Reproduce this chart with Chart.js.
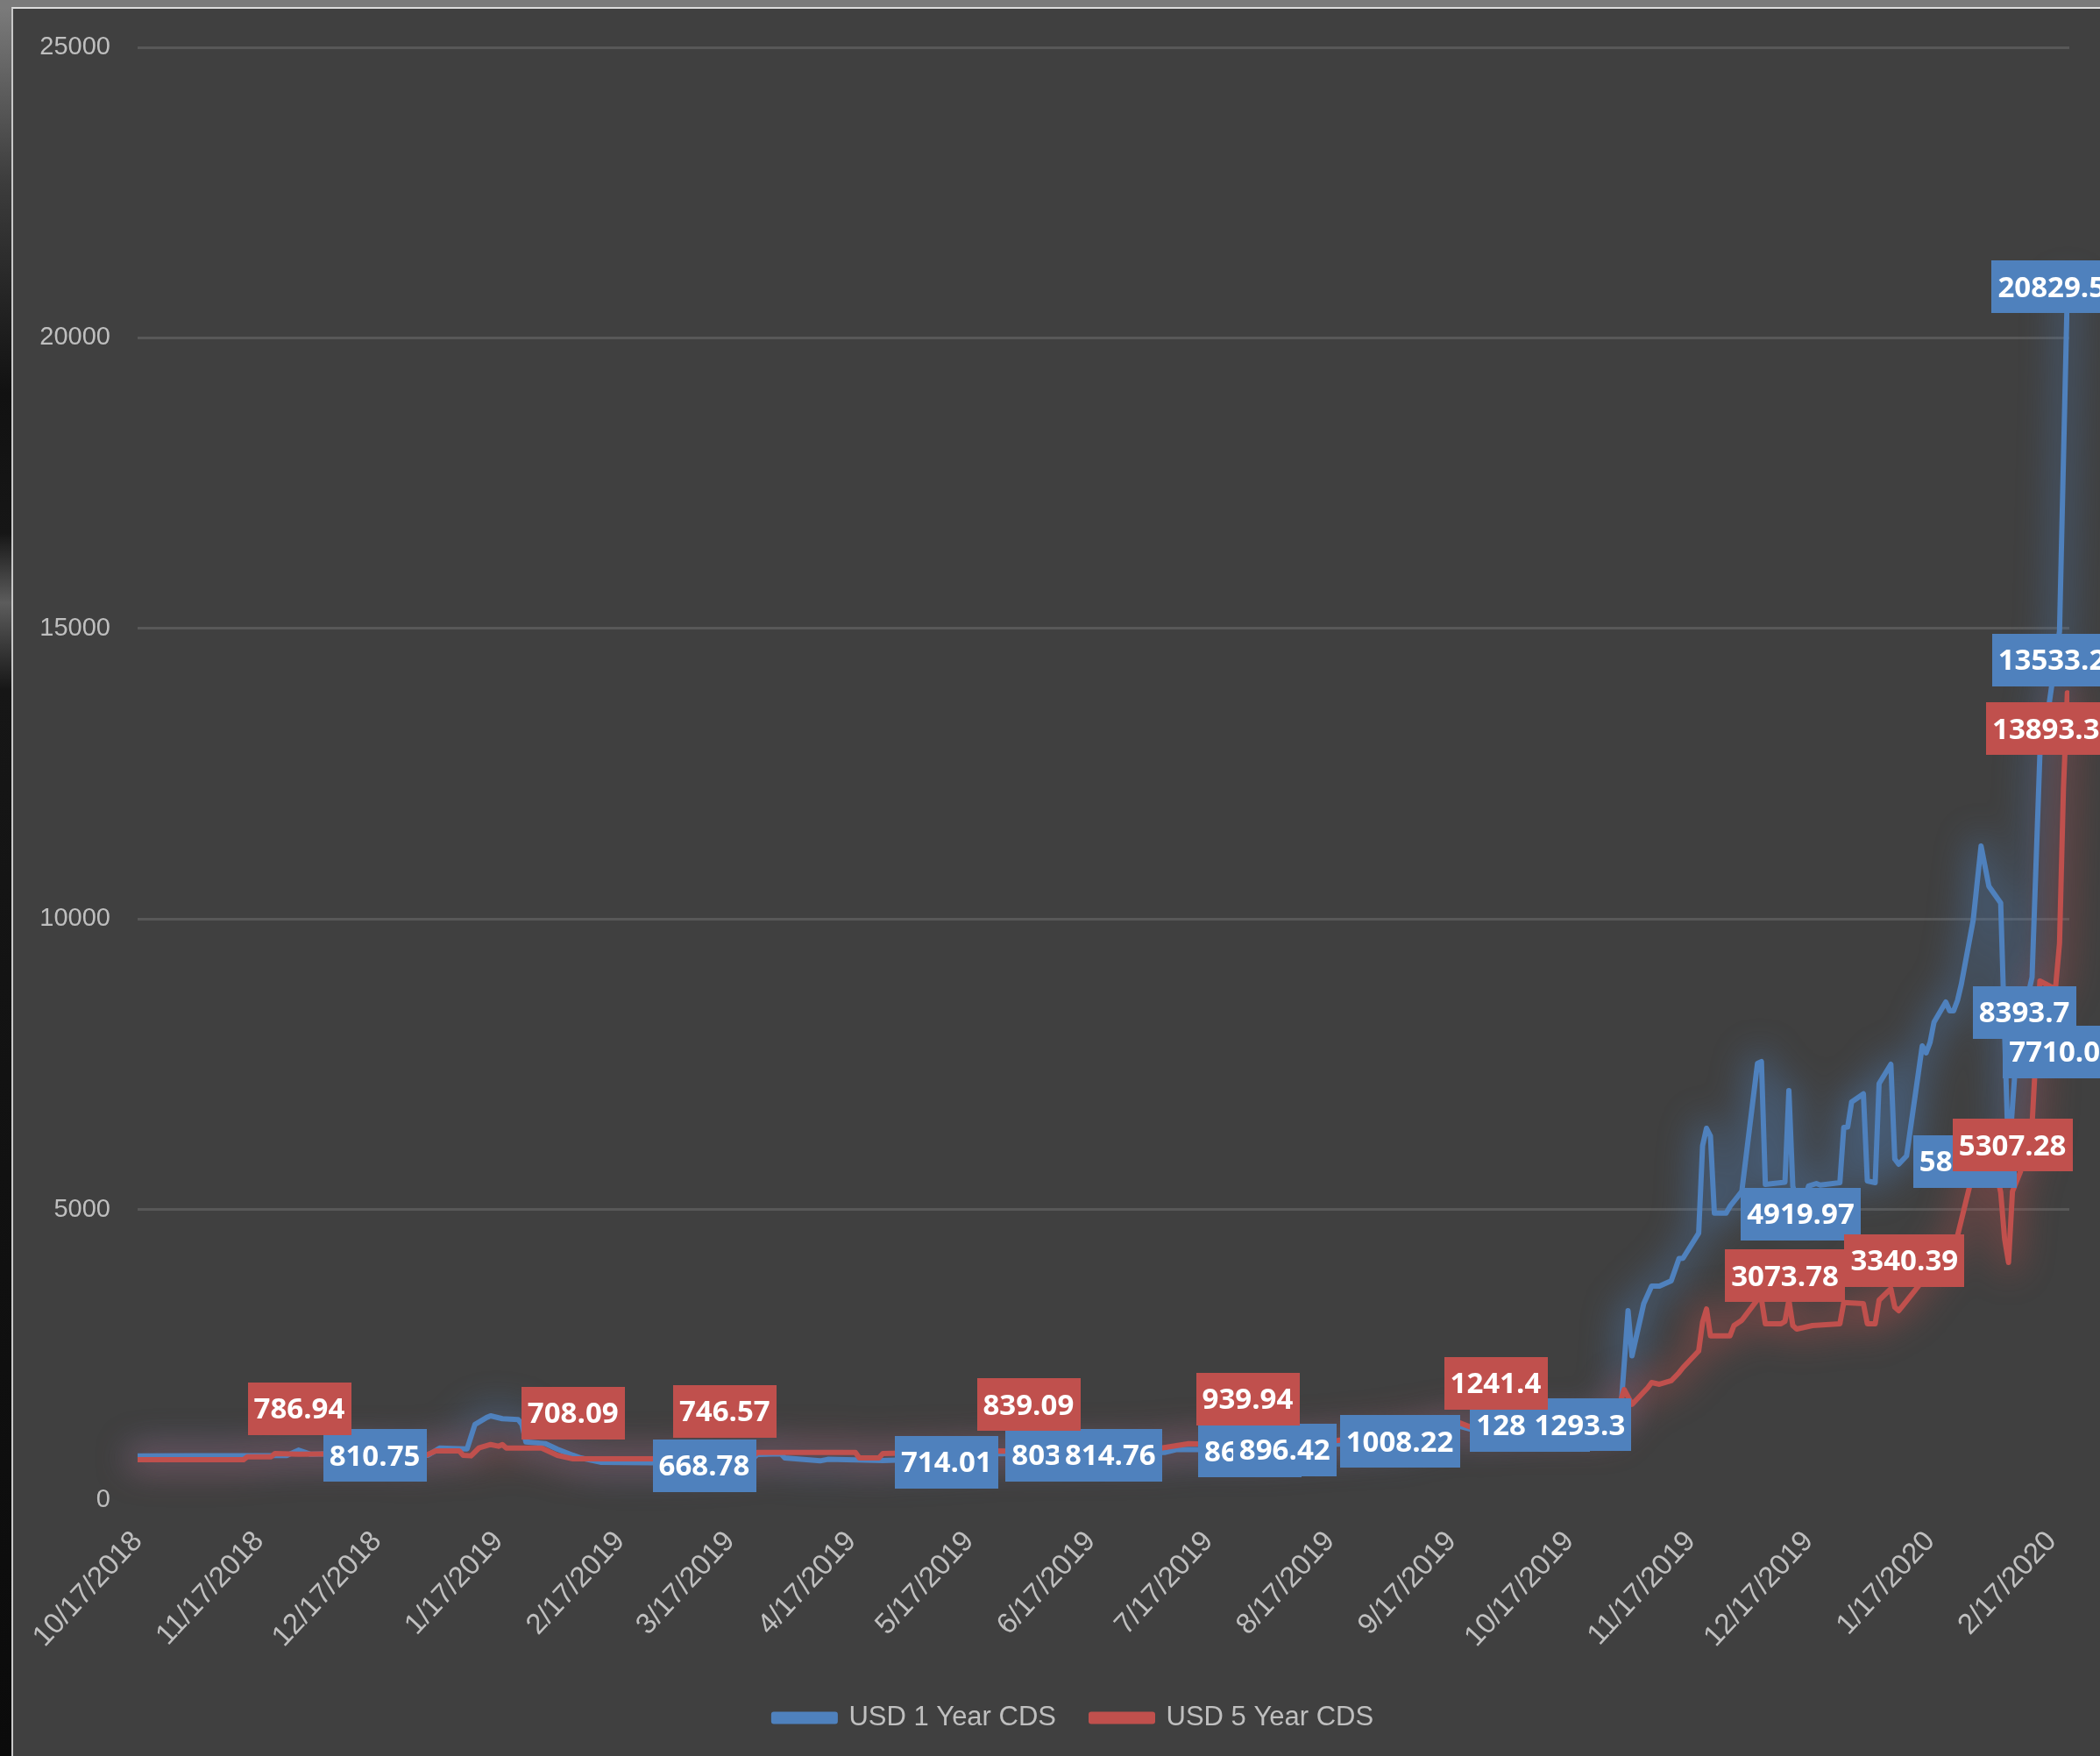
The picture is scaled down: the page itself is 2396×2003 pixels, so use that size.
<!DOCTYPE html>
<html>
<head>
<meta charset="utf-8">
<script src="https://cdn.jsdelivr.net/npm/chart.js@4.4.1/dist/chart.umd.min.js"></script>
<style>
  html, body { margin: 0; padding: 0; }
  body { width: 2396px; height: 2003px; background: #7a7a7a; position: relative; overflow: hidden; }
  #edge { position: absolute; left: 0; top: 10px; width: 13px; height: 1993px;
          background: linear-gradient(#7a7a7a, #3c3c3c 10%, #111 22%, #161616 30%, #5c5c5c 34%, #161616 39%, #0b0b0b); }
  #frame { position: absolute; left: 13px; top: 8px; width: 2381px; height: 1993px;
           border-top: 2px solid #dcdcdc; border-left: 2px solid #c8c8c8; background: #404040; }
  canvas { display: block; }
</style>
</head>
<body>
<div id="edge"></div>
<div id="frame"><canvas id="cds" width="2381" height="1993"></canvas></div>
<script>
const startDate = '2018-10-17';

const tickLabels = ['10/17/2018', '11/17/2018', '12/17/2018', '1/17/2019', '2/17/2019', '3/17/2019',
  '4/17/2019', '5/17/2019', '6/17/2019', '7/17/2019', '8/17/2019', '9/17/2019', '10/17/2019',
  '11/17/2019', '12/17/2019', '1/17/2020', '2/17/2020'];

const dates1Y = ['2018-10-17', '2018-10-31', '2018-11-24', '2018-11-27', '2018-11-30', '2018-12-16',
  '2018-12-26', '2018-12-30', '2019-01-02', '2019-01-09', '2019-01-11', '2019-01-14', '2019-01-15',
  '2019-01-18', '2019-01-22', '2019-01-23', '2019-01-24', '2019-01-29', '2019-02-01', '2019-02-05',
  '2019-02-07', '2019-02-12', '2019-02-25', '2019-03-10', '2019-03-18', '2019-03-23', '2019-03-24',
  '2019-03-30', '2019-03-31', '2019-04-09', '2019-04-11', '2019-04-18', '2019-04-25', '2019-05-11',
  '2019-05-24', '2019-06-08', '2019-06-22', '2019-07-06', '2019-07-09', '2019-07-14', '2019-07-28',
  '2019-08-05', '2019-08-19', '2019-09-04', '2019-09-19', '2019-09-24', '2019-10-07', '2019-10-19',
  '2019-10-30', '2019-11-01', '2019-11-02', '2019-11-05', '2019-11-07', '2019-11-09', '2019-11-12',
  '2019-11-14', '2019-11-15', '2019-11-19', '2019-11-20', '2019-11-21', '2019-11-22', '2019-11-23',
  '2019-11-26', '2019-11-27', '2019-11-29', '2019-11-30', '2019-12-04', '2019-12-05', '2019-12-06',
  '2019-12-10', '2019-12-11', '2019-12-12', '2019-12-13', '2019-12-15', '2019-12-17', '2019-12-19',
  '2019-12-20', '2019-12-25', '2019-12-26', '2019-12-27', '2019-12-28', '2019-12-31', '2020-01-01',
  '2020-01-03', '2020-01-04', '2020-01-07', '2020-01-08', '2020-01-09', '2020-01-11', '2020-01-15',
  '2020-01-16', '2020-01-17', '2020-01-18', '2020-01-21', '2020-01-22', '2020-01-23', '2020-01-24',
  '2020-01-25', '2020-01-28', '2020-01-30', '2020-02-01', '2020-02-04', '2020-02-06', '2020-02-08',
  '2020-02-10', '2020-02-12', '2020-02-14', '2020-02-16', '2020-02-19', '2020-02-21'];
const usd1Y = [760, 762, 765, 858, 790, 810.75,
  792, 770, 895, 880, 1300, 1420, 1448,
  1400, 1385, 1300, 1000, 970, 875, 770,
  724, 650, 640, 668.78, 700, 720, 785,
  795, 724, 674, 700, 690, 680, 714.01,
  795, 803.29, 814.76, 820, 870, 866, 868.51,
  896.42, 960, 1008.22, 1270, 1180, 1281.15, 1293.3,
  1400, 3259, 2482, 3380, 3681, 3681, 3772,
  4158, 4160, 4591, 6096, 6397, 6262, 4938,
  4938, 5055, 5227, 5314, 7514, 7544, 5432,
  5462, 5470, 7046, 5402, 4919.97, 5402, 5447,
  5420, 5462, 6412, 6420, 6850, 6990, 5492,
  5462, 7167, 7499, 5869, 5779, 5921, 7816,
  7695, 7876, 8223, 8570, 8419, 8419, 8600,
  8887, 9982, 11256, 10562, 10275, 5823.5, 7710.03,
  8393.7, 8998, 12840, 13533.21, 14952, 20829.5];

const dates5Y = ['2018-10-17', '2018-11-13', '2018-11-14', '2018-11-20', '2018-11-21', '2018-11-27',
  '2018-12-16', '2018-12-20', '2018-12-28', '2019-01-01', '2019-01-07', '2019-01-08', '2019-01-10',
  '2019-01-12', '2019-01-15', '2019-01-17', '2019-01-18', '2019-01-19', '2019-01-28', '2019-02-01',
  '2019-02-05', '2019-02-25', '2019-03-15', '2019-03-23', '2019-03-24', '2019-04-18', '2019-04-19',
  '2019-04-24', '2019-04-25', '2019-05-24', '2019-05-31', '2019-07-05', '2019-07-12', '2019-07-27',
  '2019-08-19', '2019-09-04', '2019-09-19', '2019-09-24', '2019-09-28', '2019-10-28', '2019-10-31',
  '2019-11-02', '2019-11-06', '2019-11-07', '2019-11-09', '2019-11-12', '2019-11-14', '2019-11-15',
  '2019-11-19', '2019-11-20', '2019-11-21', '2019-11-22', '2019-11-27', '2019-11-28', '2019-11-30',
  '2019-12-04', '2019-12-05', '2019-12-06', '2019-12-10', '2019-12-11', '2019-12-12', '2019-12-13',
  '2019-12-14', '2019-12-18', '2019-12-25', '2019-12-26', '2019-12-31', '2020-01-01', '2020-01-03',
  '2020-01-04', '2020-01-07', '2020-01-08', '2020-01-09', '2020-01-10', '2020-01-14', '2020-01-24',
  '2020-01-28', '2020-02-01', '2020-02-03', '2020-02-04', '2020-02-05', '2020-02-06', '2020-02-07',
  '2020-02-09', '2020-02-12', '2020-02-14', '2020-02-17', '2020-02-18', '2020-02-19', '2020-02-20',
  '2020-02-21'];
const usd5Y = [694, 694, 744, 744, 800, 786.94,
  800, 790, 724, 845, 845, 770, 760,
  894, 955, 925, 955, 894, 894, 770,
  708.09, 709, 746.57, 760, 820, 820, 724,
  724, 800, 845, 839.09, 894, 970, 939.94,
  1026, 1150, 1330, 1200, 1241.4, 1250, 1901,
  1645, 1931, 2022, 1992, 2052, 2192, 2278,
  2565, 3063, 3289, 2827, 2827, 3002, 3093,
  3450, 3460, 3033, 3033, 3073.78, 3440, 3002,
  2942, 3002, 3033, 3400, 3380, 3033, 3033,
  3440, 3636, 3319, 3259, 3340.39, 3681, 4548,
  5650, 5700, 5600, 5296, 4496, 4089, 5307.28,
  5643, 6458, 8932, 8826, 8826, 9581, 12236,
  13893.32];

// points that carry a value label: series, date, box offset from the point
const labelled = [
  { s: 0, d: '2018-12-16', dx: 2, dy: 3 }, { s: 0, d: '2019-03-10', dx: 2, dy: 5 },
  { s: 0, d: '2019-05-11', dx: 1, dy: 4 }, { s: 0, d: '2019-06-08', dx: 2, dy: 2 },
  { s: 0, d: '2019-06-22', dx: 0, dy: 3 }, { s: 0, d: '2019-07-28', dx: -2, dy: 2 },
  { s: 0, d: '2019-08-05', dx: 2, dy: 2 }, { s: 0, d: '2019-09-04', dx: -1, dy: 0 },
  { s: 0, d: '2019-10-07', dx: 0, dy: 0 }, { s: 0, d: '2019-10-19', dx: 3, dy: 0 },
  { s: 0, d: '2019-12-15', dx: 0, dy: 0 }, { s: 0, d: '2020-02-06', dx: -50, dy: 0 },
  { s: 0, d: '2020-02-08', dx: 53, dy: 0 }, { s: 0, d: '2020-02-10', dx: 0, dy: 0 },
  { s: 0, d: '2020-02-16', dx: 14, dy: -61 }, { s: 0, d: '2020-02-21', dx: -18, dy: -3 },
  { s: 1, d: '2018-11-27', dx: 1, dy: -52 }, { s: 1, d: '2019-02-05', dx: 0, dy: -52 },
  { s: 1, d: '2019-03-15', dx: 3, dy: -52 }, { s: 1, d: '2019-05-31', dx: 5, dy: -53 },
  { s: 1, d: '2019-07-27', dx: 0, dy: -53 }, { s: 1, d: '2019-09-28', dx: 1, dy: -51 },
  { s: 1, d: '2019-12-11', dx: 0, dy: -52 }, { s: 1, d: '2020-01-10', dx: 2, dy: -52 },
  { s: 1, d: '2020-02-07', dx: 0, dy: -53 }, { s: 1, d: '2020-02-21', dx: -15, dy: 41 }
];

function dayOf(str) {
  let y, m, d;
  if (str.includes('/')) { [m, d, y] = str.split('/').map(Number); }
  else { [y, m, d] = str.split('-').map(Number); }
  const [y0, m0, d0] = startDate.split('-').map(Number);
  return Math.round((Date.UTC(y, m - 1, d) - Date.UTC(y0, m0 - 1, d0)) / 864e5);
}

const tickDays = tickLabels.map(dayOf);
const toPoints = (dates, vals) => dates.map((d, i) => ({ x: dayOf(d), y: vals[i] }));

const BLUE = '#4F81BD';
const RED = '#C0504D';
const AXIS_FONT = "'Liberation Sans', Arial, sans-serif";

// soft halo under both lines: the path is stroked off-canvas so only its shadow lands
const glow = {
  id: 'glow',
  beforeDatasetsDraw(chart, args, opts) {
    const ctx = chart.ctx;
    const off = 10000;
    [0, 1].forEach(i => {
      const pts = chart.getDatasetMeta(i).data;
      ctx.save();
      ctx.translate(-off, 0);
      ctx.shadowOffsetX = off;
      ctx.shadowColor = opts.colors[i];
      ctx.shadowBlur = opts.blur;
      ctx.lineWidth = opts.width;
      ctx.lineJoin = 'round';
      ctx.lineCap = 'round';
      ctx.strokeStyle = '#000';
      ctx.beginPath();
      pts.forEach((p, k) => (k ? ctx.lineTo(p.x, p.y) : ctx.moveTo(p.x, p.y)));
      ctx.stroke();
      ctx.restore();
    });
  }
};

const valueBoxes = {
  id: 'valueBoxes',
  afterDatasetsDraw(chart, args, opts) {
    const ctx = chart.ctx;
    ctx.save();
    ctx.font = opts.font;
    ctx.textAlign = 'center';
    ctx.textBaseline = 'middle';
    const order = opts.items.filter(it => it.s === 0).concat(opts.items.filter(it => it.s === 1));
    order.forEach(it => {
      const ds = chart.data.datasets[it.s];
      const idx = ds.data.findIndex(p => p.x === dayOf(it.d));
      if (idx < 0) return;
      const el = chart.getDatasetMeta(it.s).data[idx];
      const text = String(ds.data[idx].y);
      const w = ctx.measureText(text).width + opts.padX * 2;
      const h = opts.boxH;
      const cx = el.x + it.dx;
      const cy = el.y + it.dy;
      ctx.fillStyle = ds.borderColor;
      ctx.fillRect(Math.round(cx - w / 2), Math.round(cy - h / 2), Math.round(w), h);
      ctx.fillStyle = '#ffffff';
      ctx.fillText(text, cx, cy + 2);
    });
    ctx.restore();
  }
};

// nudge the centred legend a little right, as in the source picture
const legendShift = {
  id: 'legendShift',
  afterLayout(chart, args, opts) {
    if (chart.legend) { chart.legend.left += opts.dx; chart.legend.right += opts.dx; }
  }
};

new Chart(document.getElementById('cds'), {
  type: 'line',
  data: {
    datasets: [
      { label: 'USD 1 Year CDS', data: toPoints(dates1Y, usd1Y), borderColor: BLUE, backgroundColor: BLUE, order: 1 },
      { label: 'USD 5 Year CDS', data: toPoints(dates5Y, usd5Y), borderColor: RED, backgroundColor: RED, order: 0 }
    ]
  },
  options: {
    responsive: false,
    animation: false,
    events: [],
    layout: { padding: { top: 44, right: 35, bottom: 18, left: 0 } },
    elements: {
      line: { borderWidth: 6, tension: 0, borderJoinStyle: 'round', borderCapStyle: 'round' },
      point: { radius: 0 }
    },
    scales: {
      x: {
        type: 'linear',
        min: 0,
        max: 492.5,
        afterBuildTicks: axis => { axis.ticks = tickDays.map(v => ({ value: v })); },
        afterFit: axis => { axis.height = 193; axis.paddingLeft = 0; axis.paddingRight = 0; },
        grid: { display: false },
        border: { display: false },
        ticks: {
          autoSkip: false,
          minRotation: 47,
          maxRotation: 47,
          padding: 20,
          color: '#BFBFBF',
          font: { family: AXIS_FONT, size: 33 },
          callback: (v, i) => tickLabels[i]
        }
      },
      y: {
        min: 0,
        max: 25000,
        afterFit: axis => { axis.width = 142; axis.paddingTop = 0; axis.paddingBottom = 0; },
        grid: {
          color: c => (c.tick && c.tick.value === 0 ? 'rgba(0,0,0,0)' : '#585858'),
          lineWidth: 3,
          drawTicks: false
        },
        border: { display: false },
        ticks: {
          stepSize: 5000,
          padding: 31,
          color: '#BFBFBF',
          font: { family: AXIS_FONT, size: 29 },
          callback: v => String(v)
        }
      }
    },
    plugins: {
      tooltip: { enabled: false },
      legend: {
        position: 'bottom',
        labels: {
          sort: (a, b) => a.datasetIndex - b.datasetIndex,
          boxWidth: 70,
          boxHeight: 8,
          padding: 40,
          color: '#BFBFBF',
          font: { family: AXIS_FONT, size: 31 }
        }
      },
      legendShift: { dx: 37 },
      glow: { blur: 38, width: 24, colors: ['rgba(79,129,189,0.4)', 'rgba(192,80,77,0.4)'] },
      valueBoxes: { items: labelled, font: "bold 33px 'Open Sans', sans-serif", padX: 7, boxH: 60 }
    }
  },
  plugins: [glow, valueBoxes, legendShift]
});
</script>
</body>
</html>
